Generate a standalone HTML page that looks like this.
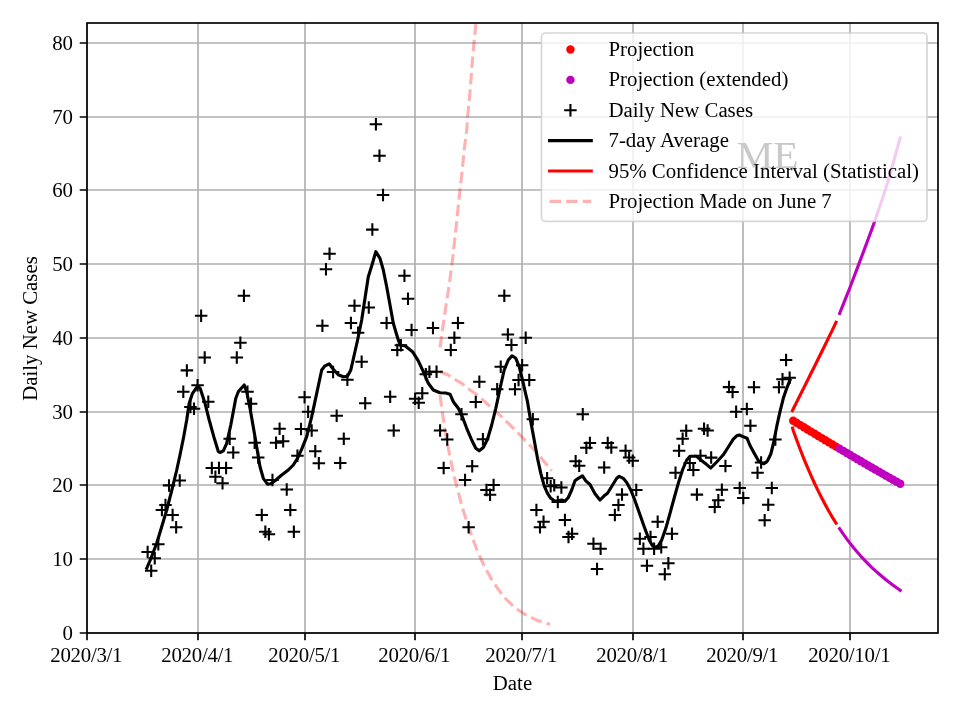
<!DOCTYPE html>
<html><head><meta charset="utf-8"><title>Daily New Cases</title>
<style>
html,body{margin:0;padding:0;background:#fff;}
body{width:960px;height:720px;overflow:hidden;}
svg{display:block;will-change:transform;}
text{font-family:"Liberation Serif","Times New Roman",serif;font-size:20.83px;fill:#000;}
</style></head><body>
<svg width="960" height="720" viewBox="0 0 960 720">
<rect width="960" height="720" fill="#fff"/>
<defs><clipPath id="ax"><rect x="87" y="23" width="851" height="610"/></clipPath>
<g id="p"><path d="M-6.25 0H6.25M0 -6.25V6.25" stroke="#000" stroke-width="2.08" fill="none"/></g>
</defs>
<path d="M87 23.0V633.0M198 23.0V633.0M305 23.0V633.0M415 23.0V633.0M522 23.0V633.0M633 23.0V633.0M743 23.0V633.0M850 23.0V633.0M87.0 633H938.0M87.0 559H938.0M87.0 485H938.0M87.0 412H938.0M87.0 338H938.0M87.0 264H938.0M87.0 190H938.0M87.0 117H938.0M87.0 43H938.0" stroke="#b0b0b0" stroke-width="1.67" fill="none"/>
<g clip-path="url(#ax)">
<path d="M440 347.5 L442.5 330 L445.8 306.7 L449.2 285 L452.5 260 L455.8 230 L457.5 213.3 L460 190 L461.7 175 L464.2 150 L466.7 130 L467.5 118.3 L470 91.7 L473.3 50 L475.8 24.2" stroke="#ff0000" stroke-opacity="0.3" stroke-width="3.125" fill="none" stroke-dasharray="11.56 5" stroke-linejoin="round"/>
<path d="M440 395 L442.5 413.3 L445.8 435 L450 456.7 L454.2 476.7 L458.5 493 L462.7 508.8 L469 528.5 L476.3 548.3 L484.6 567 L492.9 581.7 L503.3 596.3 L513.8 606.7 L524.2 614 L536.7 620.2 L550.2 624.4" stroke="#ff0000" stroke-opacity="0.3" stroke-width="3.125" fill="none" stroke-dasharray="11.56 5" stroke-linejoin="round"/>
<path d="M440 371.7 L448.3 375 L455.8 380 L461.7 383.3 L470 390 L475 393.3 L486.7 403.3 L503.3 418.3 L520 435 L536.7 452.5 L551.7 470.8" stroke="#ff0000" stroke-opacity="0.3" stroke-width="3.125" fill="none" stroke-dasharray="11.56 5" stroke-linejoin="round"/>
<g fill="#ff0000"><circle cx="793.21" cy="420.74" r="4.2"/><circle cx="796.77" cy="422.93" r="4.2"/><circle cx="800.34" cy="425.12" r="4.2"/><circle cx="803.91" cy="427.29" r="4.2"/><circle cx="807.47" cy="429.47" r="4.2"/><circle cx="811.04" cy="431.63" r="4.2"/><circle cx="814.61" cy="433.79" r="4.2"/><circle cx="818.17" cy="435.94" r="4.2"/><circle cx="821.74" cy="438.09" r="4.2"/><circle cx="825.31" cy="440.23" r="4.2"/><circle cx="828.87" cy="442.36" r="4.2"/><circle cx="832.44" cy="444.49" r="4.2"/><circle cx="836.01" cy="446.61" r="4.2"/></g>
<g fill="#bf00bf"><circle cx="839.57" cy="448.73" r="4.2"/><circle cx="843.14" cy="450.84" r="4.2"/><circle cx="846.71" cy="452.94" r="4.2"/><circle cx="850.27" cy="455.04" r="4.2"/><circle cx="853.84" cy="457.13" r="4.2"/><circle cx="857.41" cy="459.21" r="4.2"/><circle cx="860.97" cy="461.29" r="4.2"/><circle cx="864.54" cy="463.37" r="4.2"/><circle cx="868.11" cy="465.43" r="4.2"/><circle cx="871.67" cy="467.49" r="4.2"/><circle cx="875.24" cy="469.55" r="4.2"/><circle cx="878.81" cy="471.59" r="4.2"/><circle cx="882.37" cy="473.63" r="4.2"/><circle cx="885.94" cy="475.67" r="4.2"/><circle cx="889.51" cy="477.7" r="4.2"/><circle cx="893.07" cy="479.72" r="4.2"/><circle cx="896.64" cy="481.74" r="4.2"/><circle cx="900.21" cy="483.75" r="4.2"/></g>
<g><use href="#p" x="147.63" y="552"/><use href="#p" x="151.2" y="570.8"/><use href="#p" x="154.77" y="558.3"/><use href="#p" x="158.33" y="544.2"/><use href="#p" x="161.9" y="510"/><use href="#p" x="165.47" y="505"/><use href="#p" x="169.03" y="485.4"/><use href="#p" x="172.6" y="515"/><use href="#p" x="176.17" y="527.2"/><use href="#p" x="179.73" y="480.5"/><use href="#p" x="183.3" y="391.7"/><use href="#p" x="186.87" y="370.4"/><use href="#p" x="190.43" y="407"/><use href="#p" x="194" y="408.7"/><use href="#p" x="197.57" y="385.3"/><use href="#p" x="201.13" y="315.8"/><use href="#p" x="204.7" y="357.5"/><use href="#p" x="208.27" y="401.7"/><use href="#p" x="211.83" y="468"/><use href="#p" x="215.4" y="476.7"/><use href="#p" x="218.97" y="468"/><use href="#p" x="222.53" y="483.3"/><use href="#p" x="226.1" y="468"/><use href="#p" x="229.67" y="438.7"/><use href="#p" x="233.23" y="452.5"/><use href="#p" x="236.8" y="357.5"/><use href="#p" x="240.37" y="342.8"/><use href="#p" x="243.93" y="295.8"/><use href="#p" x="247.5" y="391.7"/><use href="#p" x="251.07" y="403.8"/><use href="#p" x="254.63" y="442.8"/><use href="#p" x="258.2" y="457.5"/><use href="#p" x="261.77" y="515"/><use href="#p" x="265.34" y="531.7"/><use href="#p" x="268.9" y="534.2"/><use href="#p" x="272.47" y="480"/><use href="#p" x="276.04" y="442.8"/><use href="#p" x="279.6" y="428.7"/><use href="#p" x="283.17" y="441.2"/><use href="#p" x="286.74" y="489.5"/><use href="#p" x="290.3" y="510"/><use href="#p" x="293.87" y="531.8"/><use href="#p" x="297.44" y="455.8"/><use href="#p" x="301" y="429"/><use href="#p" x="304.57" y="397.2"/><use href="#p" x="308.14" y="411.7"/><use href="#p" x="311.7" y="430.5"/><use href="#p" x="315.27" y="451.2"/><use href="#p" x="318.84" y="463.3"/><use href="#p" x="322.4" y="325.8"/><use href="#p" x="325.97" y="269.2"/><use href="#p" x="329.54" y="253.8"/><use href="#p" x="333.1" y="372"/><use href="#p" x="336.67" y="415.8"/><use href="#p" x="340.24" y="463"/><use href="#p" x="343.8" y="438.8"/><use href="#p" x="347.37" y="379.7"/><use href="#p" x="350.94" y="323"/><use href="#p" x="354.5" y="305.8"/><use href="#p" x="358.07" y="332.7"/><use href="#p" x="361.64" y="361.8"/><use href="#p" x="365.2" y="403.3"/><use href="#p" x="368.77" y="307.5"/><use href="#p" x="372.34" y="229.6"/><use href="#p" x="375.9" y="124.2"/><use href="#p" x="379.47" y="155.8"/><use href="#p" x="383.04" y="195"/><use href="#p" x="386.6" y="323"/><use href="#p" x="390.17" y="396.7"/><use href="#p" x="393.74" y="430.5"/><use href="#p" x="397.3" y="350"/><use href="#p" x="400.87" y="345.3"/><use href="#p" x="404.44" y="275.8"/><use href="#p" x="408" y="298.8"/><use href="#p" x="411.57" y="330"/><use href="#p" x="415.14" y="398.7"/><use href="#p" x="418.7" y="402.8"/><use href="#p" x="422.27" y="393.3"/><use href="#p" x="425.84" y="374.2"/><use href="#p" x="429.4" y="371.7"/><use href="#p" x="432.97" y="328"/><use href="#p" x="436.54" y="371.7"/><use href="#p" x="440.1" y="430.5"/><use href="#p" x="443.67" y="468"/><use href="#p" x="447.24" y="439.5"/><use href="#p" x="450.8" y="350"/><use href="#p" x="454.37" y="337.8"/><use href="#p" x="457.94" y="323"/><use href="#p" x="461.5" y="414.2"/><use href="#p" x="465.07" y="480"/><use href="#p" x="468.64" y="527.2"/><use href="#p" x="472.2" y="466.2"/><use href="#p" x="475.77" y="402"/><use href="#p" x="479.34" y="381.7"/><use href="#p" x="482.9" y="439.2"/><use href="#p" x="486.47" y="490"/><use href="#p" x="490.04" y="494.7"/><use href="#p" x="493.6" y="485"/><use href="#p" x="497.17" y="389.2"/><use href="#p" x="500.74" y="366.7"/><use href="#p" x="504.3" y="295.8"/><use href="#p" x="507.87" y="334.5"/><use href="#p" x="511.44" y="345"/><use href="#p" x="515" y="389.2"/><use href="#p" x="518.57" y="380"/><use href="#p" x="522.14" y="365.3"/><use href="#p" x="525.7" y="337.8"/><use href="#p" x="529.27" y="380"/><use href="#p" x="532.84" y="419.2"/><use href="#p" x="536.4" y="510"/><use href="#p" x="539.97" y="527.2"/><use href="#p" x="543.54" y="521.7"/><use href="#p" x="547.1" y="478.3"/><use href="#p" x="550.67" y="486.3"/><use href="#p" x="554.24" y="485.3"/><use href="#p" x="557.8" y="502"/><use href="#p" x="561.37" y="487.5"/><use href="#p" x="564.94" y="520"/><use href="#p" x="568.5" y="537"/><use href="#p" x="572.07" y="533.8"/><use href="#p" x="575.64" y="461.2"/><use href="#p" x="579.2" y="465.8"/><use href="#p" x="582.77" y="414.2"/><use href="#p" x="586.34" y="447.8"/><use href="#p" x="589.9" y="443"/><use href="#p" x="593.47" y="543.8"/><use href="#p" x="597.04" y="569"/><use href="#p" x="600.6" y="548.7"/><use href="#p" x="604.17" y="467.5"/><use href="#p" x="607.74" y="443"/><use href="#p" x="611.3" y="447.5"/><use href="#p" x="614.87" y="515"/><use href="#p" x="618.44" y="505"/><use href="#p" x="622" y="494.6"/><use href="#p" x="625.57" y="450.8"/><use href="#p" x="629.14" y="457.5"/><use href="#p" x="632.71" y="460.8"/><use href="#p" x="636.27" y="490"/><use href="#p" x="639.84" y="538.7"/><use href="#p" x="643.41" y="548.7"/><use href="#p" x="646.97" y="565.8"/><use href="#p" x="650.54" y="537"/><use href="#p" x="654.11" y="548.7"/><use href="#p" x="657.67" y="521.7"/><use href="#p" x="661.24" y="547.2"/><use href="#p" x="664.81" y="574.2"/><use href="#p" x="668.37" y="563.3"/><use href="#p" x="671.94" y="533.7"/><use href="#p" x="675.51" y="472.8"/><use href="#p" x="679.07" y="450.8"/><use href="#p" x="682.64" y="438.7"/><use href="#p" x="686.21" y="430.8"/><use href="#p" x="689.77" y="463"/><use href="#p" x="693.34" y="470"/><use href="#p" x="696.91" y="494.6"/><use href="#p" x="700.47" y="455.8"/><use href="#p" x="704.04" y="428.8"/><use href="#p" x="707.61" y="430.5"/><use href="#p" x="711.17" y="457.6"/><use href="#p" x="714.74" y="507"/><use href="#p" x="718.31" y="500.2"/><use href="#p" x="721.87" y="489.8"/><use href="#p" x="725.44" y="466"/><use href="#p" x="729.01" y="387.1"/><use href="#p" x="732.57" y="392"/><use href="#p" x="736.14" y="411.8"/><use href="#p" x="739.71" y="488"/><use href="#p" x="743.27" y="498"/><use href="#p" x="746.84" y="409"/><use href="#p" x="750.41" y="425.8"/><use href="#p" x="753.97" y="387.2"/><use href="#p" x="757.54" y="472.8"/><use href="#p" x="761.11" y="462.5"/><use href="#p" x="764.67" y="520.3"/><use href="#p" x="768.24" y="504.7"/><use href="#p" x="771.81" y="488"/><use href="#p" x="775.37" y="439.5"/><use href="#p" x="778.94" y="387.2"/><use href="#p" x="782.51" y="379.2"/><use href="#p" x="786.07" y="360"/><use href="#p" x="789.64" y="377.8"/></g>
<path d="M146.7 568.3 L150.3 560 L156.7 543.3 L161.7 526.7 L166.7 510 L171.5 491.5 L176.5 471 L180 455 L183.7 436.7 L186.7 420 L189.2 403.3 L192.5 393.3 L197.8 385.8 L200.3 388.7 L205 403.3 L209.2 420 L213.8 436.7 L218.3 451.5 L220 452.5 L223.3 450.8 L226.7 443.3 L230.8 425 L235.8 398.3 L238.3 391.7 L244.2 385 L246.7 391.7 L250 408.3 L255 436.7 L260 466.7 L263.3 478.3 L267.5 484.2 L270.8 483.8 L275 480.8 L281.7 475 L288.3 470 L293.3 465 L297.5 458.3 L301.7 449.2 L306.7 436.7 L311.7 416.7 L316.7 393.3 L321.7 370 L325 365.8 L329.2 363.8 L333.3 369.2 L338.3 374.7 L343.3 376.7 L347.5 376.3 L350.8 370 L354.2 355 L357.5 340.5 L361.7 320 L365 298.3 L368.3 276.7 L372.2 264.2 L375.8 251.7 L380 258.3 L383.3 270 L386.7 286.7 L390 305 L393.3 323.3 L395.8 331.7 L398.3 340 L400.8 345.5 L405 345.8 L412.5 351.7 L418.3 360.8 L423.3 371.7 L428.3 383.3 L433.3 390 L440 392.8 L445.8 393 L450 394.2 L453.3 401.7 L458.3 408.3 L461.7 415 L466.7 428.3 L471.7 440 L475.8 448.3 L479.2 450.8 L483.3 447.5 L487.5 439.2 L491.7 425 L495.8 408.3 L500.8 385 L504.2 370 L508.3 360 L512 355.8 L515.8 358.3 L519.2 366.7 L522.5 380 L525 391 L527.5 401.7 L530.8 421.7 L534.2 440 L537.5 458.3 L540.8 473.3 L544.2 485.8 L547.5 493.3 L550.8 498.3 L555 501.3 L558.3 500.8 L561.7 500 L565 501.3 L568.3 497.5 L571.7 490 L575 480.8 L578.3 478.3 L582.5 475.8 L585.8 480.8 L590 484.5 L595 493.8 L600 500 L604.2 495.8 L607.5 493.3 L612 486 L616.7 478.3 L619.2 476.3 L623.3 478.3 L626.7 482.5 L630.5 489.5 L634.2 498.5 L639.2 512.5 L644.2 526.7 L649.2 540 L652.5 545.8 L655 547.5 L658.3 545.8 L661.7 540 L665.8 528.3 L670 513.3 L675 495 L678.3 483.3 L682.5 470 L686.7 460 L690 456.3 L696.7 456.3 L700.8 460 L706.7 464.6 L710.8 468 L716.7 462 L723.3 454.8 L728.3 447 L733.3 439.2 L736.7 435.8 L739.2 435 L743.3 436.7 L747 438.2 L750 445.5 L754.5 453.8 L758.3 460.5 L761.7 463.3 L764.2 463.7 L767.5 460.8 L770.8 454 L773.3 444 L776.7 426.7 L780 411.7 L783.3 398.3 L786.7 388.3 L790 380" stroke="#000" stroke-width="3.125" fill="none" stroke-linejoin="round" stroke-linecap="square"/>
<path d="M792.4 410.6 L793.21 408.99 L796.77 401.85 L800.34 394.72 L803.91 387.59 L807.47 380.45 L811.04 373.32 L814.61 366.19 L818.17 359.05 L821.74 351.76 L825.31 344.46 L828.87 337.16 L832.44 329.86 L836.01 322.34" stroke="#ff0000" stroke-width="3.125" fill="none" stroke-linejoin="round" stroke-linecap="square"/>
<path d="M792.6 428.2 L793.21 430.42 L796.77 440.32 L800.34 449.78 L803.91 458.81 L807.47 467.43 L811.04 475.65 L814.61 483.49 L818.17 490.95 L821.74 498.06 L825.31 504.82 L828.87 511.25 L832.44 517.36 L836.01 523.16" stroke="#ff0000" stroke-width="3.125" fill="none" stroke-linejoin="round" stroke-linecap="square"/>
<path d="M839.57 313.46 L843.14 304.58 L846.71 295.7 L850.27 286.77 L853.84 277.32 L857.41 267.87 L860.97 258.42 L864.54 248.84 L868.11 239.23 L871.67 229.61 L875.24 219.76 L878.81 209.33 L882.37 198.84 L885.94 187.74 L889.51 176.28 L893.07 163.49 L896.64 150.71 L900.21 138" stroke="#bf00bf" stroke-width="3.125" fill="none" stroke-linejoin="round" stroke-linecap="square"/>
<path d="M839.57 528.67 L843.14 533.9 L846.71 538.87 L850.27 543.58 L853.84 548.05 L857.41 552.3 L860.97 556.33 L864.54 560.17 L868.11 563.81 L871.67 567.28 L875.24 570.6 L878.81 573.76 L882.37 576.79 L885.94 579.71 L889.51 582.51 L893.07 585.22 L896.64 587.85 L900.21 590.41" stroke="#bf00bf" stroke-width="3.125" fill="none" stroke-linejoin="round" stroke-linecap="square"/>
</g>
<path d="M87 633.0v7.3M198 633.0v7.3M305 633.0v7.3M415 633.0v7.3M522 633.0v7.3M633 633.0v7.3M743 633.0v7.3M850 633.0v7.3M87.0 633h-7.3M87.0 559h-7.3M87.0 485h-7.3M87.0 412h-7.3M87.0 338h-7.3M87.0 264h-7.3M87.0 190h-7.3M87.0 117h-7.3M87.0 43h-7.3" stroke="#000" stroke-width="1.67" fill="none"/>
<rect x="87.0" y="23.0" width="851.0" height="610.0" fill="none" stroke="#000" stroke-width="1.67"/>
<text x="86.3" y="661.8" text-anchor="middle" style="letter-spacing:-0.26px">2020/3/1</text>
<text x="197.3" y="661.8" text-anchor="middle" style="letter-spacing:-0.26px">2020/4/1</text>
<text x="304.3" y="661.8" text-anchor="middle" style="letter-spacing:-0.26px">2020/5/1</text>
<text x="414.3" y="661.8" text-anchor="middle" style="letter-spacing:-0.26px">2020/6/1</text>
<text x="521.3" y="661.8" text-anchor="middle" style="letter-spacing:-0.26px">2020/7/1</text>
<text x="632.3" y="661.8" text-anchor="middle" style="letter-spacing:-0.26px">2020/8/1</text>
<text x="742.3" y="661.8" text-anchor="middle" style="letter-spacing:-0.26px">2020/9/1</text>
<text x="849.3" y="661.8" text-anchor="middle" style="letter-spacing:-0.26px">2020/10/1</text>
<text x="73" y="640.1" text-anchor="end">0</text>
<text x="73" y="566.1" text-anchor="end">10</text>
<text x="73" y="492.1" text-anchor="end">20</text>
<text x="73" y="419.1" text-anchor="end">30</text>
<text x="73" y="345.1" text-anchor="end">40</text>
<text x="73" y="271.1" text-anchor="end">50</text>
<text x="73" y="197.1" text-anchor="end">60</text>
<text x="73" y="124.1" text-anchor="end">70</text>
<text x="73" y="50.1" text-anchor="end">80</text>
<text x="512.5" y="690" text-anchor="middle">Date</text>
<text transform="translate(37,328.5) rotate(-90)" text-anchor="middle">Daily New Cases</text>
<rect x="541.5" y="33.0" width="385.5" height="188.3" rx="4" ry="4" fill="#fff" fill-opacity="0.8" stroke="#cccccc" stroke-opacity="0.8" stroke-width="1.67"/>
<circle cx="570.43" cy="49.5" r="4.2" fill="#ff0000"/>
<circle cx="570.43" cy="79.9" r="4.2" fill="#bf00bf"/>
<use href="#p" x="570.43" y="110.3"/>
<path d="M549.6 140.6H591.27" stroke="#000" stroke-width="3.125" stroke-linecap="square"/>
<path d="M549.6 171.0H591.27" stroke="#ff0000" stroke-width="3.125" stroke-linecap="square"/>
<path d="M549.6 201.4H591.27" stroke="#ff0000" stroke-opacity="0.3" stroke-width="3.125" stroke-dasharray="11.56 5"/>
<text transform="translate(767.6,168) scale(1.075,1)" text-anchor="middle" style="font-size:38.6px;fill:#c9c9c9">ME</text>
<text x="608.47" y="55.9">Projection</text>
<text x="608.47" y="86.3">Projection (extended)</text>
<text x="608.47" y="116.7">Daily New Cases</text>
<text x="608.47" y="147.1">7-day Average</text>
<text x="608.47" y="177.5">95% Confidence Interval (Statistical)</text>
<text x="608.47" y="207.9">Projection Made on June 7</text>
</svg></body></html>
